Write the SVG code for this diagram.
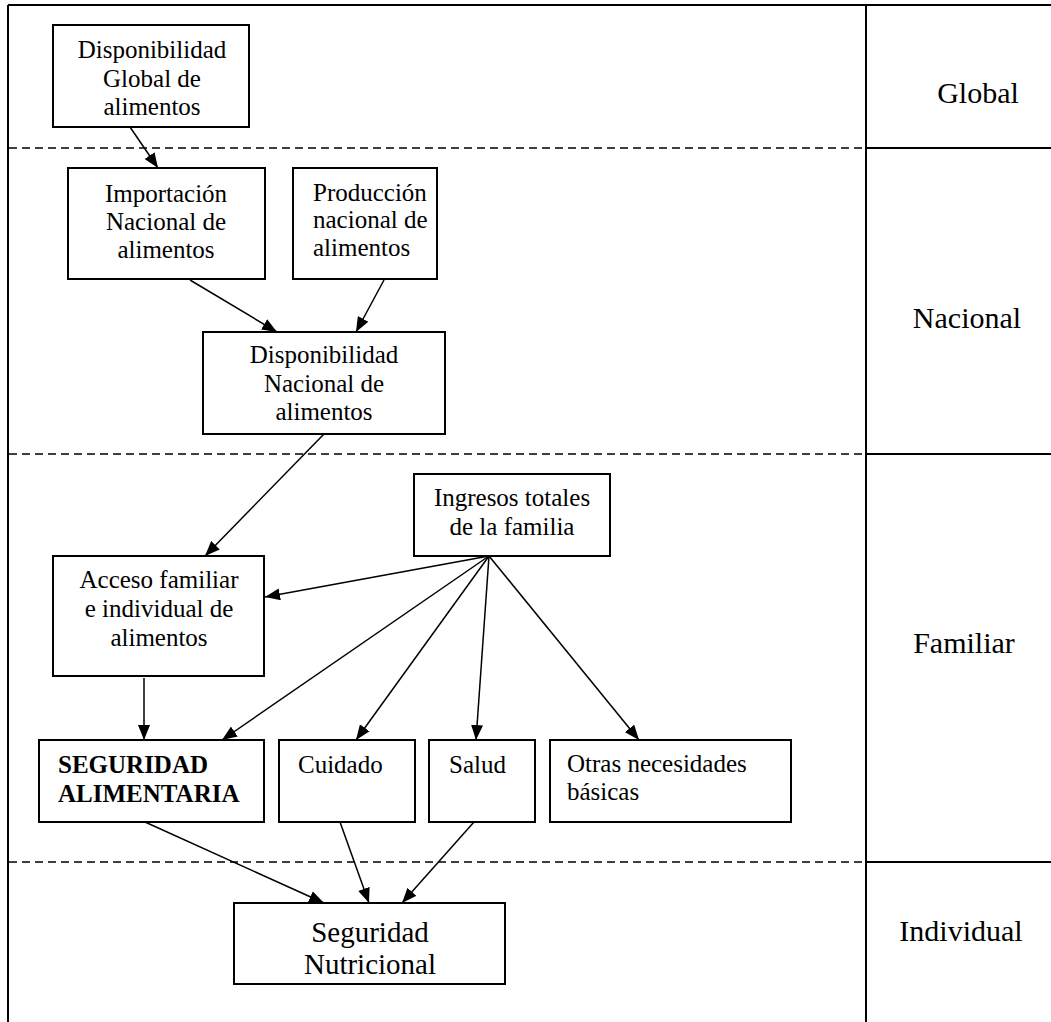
<svg xmlns="http://www.w3.org/2000/svg" width="1051" height="1022" viewBox="0 0 1051 1022">
<defs>
<style>
.box{fill:#fff;stroke:#000;stroke-width:2}
.t{font-family:"Liberation Serif","Times New Roman",serif;font-size:25px;fill:#000}
.c{text-anchor:middle}
.b{font-weight:bold}
.lbl{font-family:"Liberation Serif","Times New Roman",serif;font-size:30px;fill:#000;text-anchor:middle}
.frame{stroke:#000;stroke-width:2;fill:none}
.dash{stroke:#000;stroke-width:1.5;stroke-dasharray:8 5;fill:none}
.arr{stroke:#000;stroke-width:1.5;fill:none;marker-end:url(#ah)}
</style>
<marker id="ah" viewBox="0 0 15 12" refX="15" refY="6" markerWidth="15" markerHeight="12" markerUnits="userSpaceOnUse" orient="auto">
<path d="M0,0 L15,6 L0,12 z" fill="#000"/>
</marker>
</defs>
<rect width="1051" height="1022" fill="#fff"/>
<g id="frame">
<line class="frame" x1="8" y1="5" x2="1051" y2="5"/>
<line class="frame" x1="8" y1="5" x2="8" y2="1022"/>
<line class="frame" x1="866" y1="5" x2="866" y2="1022"/>
<line class="frame" x1="866" y1="148" x2="1051" y2="148"/>
<line class="frame" x1="866" y1="454" x2="1051" y2="454"/>
<line class="frame" x1="866" y1="862" x2="1051" y2="862"/>
<line class="dash" x1="9" y1="148" x2="866" y2="148"/>
<line class="dash" x1="9" y1="454" x2="866" y2="454"/>
<line class="dash" x1="9" y1="862" x2="866" y2="862"/>
</g>
<g id="levels">
<text class="lbl" x="978" y="103">Global</text>
<text class="lbl" x="967" y="328">Nacional</text>
<text class="lbl" x="964" y="653">Familiar</text>
<text class="lbl" x="961" y="941">Individual</text>
</g>
<g id="connectors">
<line class="arr" x1="130" y1="127" x2="158" y2="168"/>
<line class="arr" x1="190" y1="280" x2="277" y2="332"/>
<line class="arr" x1="384" y1="280" x2="356" y2="332"/>
<line class="arr" x1="324" y1="434" x2="205" y2="556"/>
<line class="arr" x1="489" y1="556" x2="265" y2="597"/>
<line class="arr" x1="489" y1="556" x2="222" y2="740"/>
<line class="arr" x1="489" y1="556" x2="356" y2="740"/>
<line class="arr" x1="489" y1="556" x2="476" y2="740"/>
<line class="arr" x1="489" y1="556" x2="639" y2="740"/>
<line class="arr" x1="144" y1="678" x2="144" y2="740"/>
<line class="arr" x1="145" y1="822" x2="324" y2="903"/>
<line class="arr" x1="340" y1="822" x2="369" y2="903"/>
<line class="arr" x1="474" y1="822" x2="402" y2="903"/>
</g>
<g id="n-global">
<rect class="box" x="53" y="25" width="196" height="102"/>
<text class="t c" x="152" y="58">Disponibilidad</text>
<text class="t c" x="152" y="87">Global de</text>
<text class="t c" x="152" y="115">alimentos</text>
</g>
<g id="n-importacion">
<rect class="box" x="68" y="168" width="197" height="111"/>
<text class="t c" x="166" y="202">Importación</text>
<text class="t c" x="166" y="230">Nacional de</text>
<text class="t c" x="166" y="258">alimentos</text>
</g>
<g id="n-produccion">
<rect class="box" x="293" y="168" width="144" height="111"/>
<text class="t" x="313" y="201">Producción</text>
<text class="t" x="313" y="228">nacional de</text>
<text class="t" x="313" y="256">alimentos</text>
</g>
<g id="n-disp-nacional">
<rect class="box" x="203" y="332" width="242" height="102"/>
<text class="t c" x="324" y="363">Disponibilidad</text>
<text class="t c" x="324" y="392">Nacional de</text>
<text class="t c" x="324" y="420">alimentos</text>
</g>
<g id="n-ingresos">
<rect class="box" x="414" y="474" width="196" height="82"/>
<text class="t c" x="512" y="506">Ingresos totales</text>
<text class="t c" x="512" y="535">de la familia</text>
</g>
<g id="n-acceso">
<rect class="box" x="53" y="556" width="211" height="120"/>
<text class="t c" x="159" y="588">Acceso familiar</text>
<text class="t c" x="159" y="617">e individual de</text>
<text class="t c" x="159" y="646">alimentos</text>
</g>
<g id="n-seguridad-alimentaria">
<rect class="box" x="39" y="740" width="225" height="82"/>
<text class="t b" x="58" y="773">SEGURIDAD</text>
<text class="t b" x="58" y="802">ALIMENTARIA</text>
</g>
<g id="n-cuidado">
<rect class="box" x="279" y="740" width="136" height="82"/>
<text class="t" x="298" y="773">Cuidado</text>
</g>
<g id="n-salud">
<rect class="box" x="429" y="740" width="106" height="82"/>
<text class="t" x="449" y="773">Salud</text>
</g>
<g id="n-otras">
<rect class="box" x="550" y="740" width="241" height="82"/>
<text class="t" x="567" y="772">Otras necesidades</text>
<text class="t" x="567" y="800">básicas</text>
</g>
<g id="n-nutricional">
<rect class="box" x="234" y="903" width="271" height="81"/>
<text class="t c" x="370" y="942" style="font-size:29px">Seguridad</text>
<text class="t c" x="370" y="974" style="font-size:29px">Nutricional</text>
</g>
</svg>
